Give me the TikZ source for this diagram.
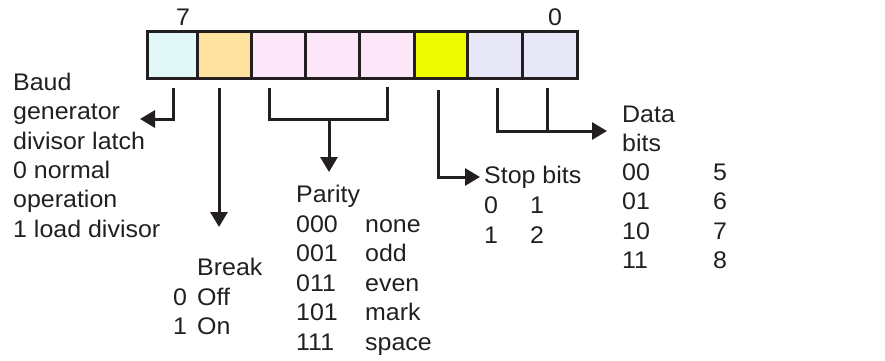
\documentclass[tikz,border=0pt]{standalone}
\usepackage{fontspec}
\setmainfont{Liberation Sans}[FakeStretch=1.04]
\usetikzlibrary{arrows.meta}
\definecolor{ink}{HTML}{231F20}
\definecolor{cCyan}{HTML}{E2F7F8}
\definecolor{cOrange}{HTML}{FDE2A0}
\definecolor{cPink}{HTML}{FBE7F7}
\definecolor{cYellow}{HTML}{EEFA00}
\definecolor{cLav}{HTML}{E7E7F8}
\begin{document}
\begin{tikzpicture}[x=1pt,y=-1pt,
  lbl/.style={anchor=base west, inner sep=0pt, font=\fontsize{24}{29.5}\selectfont, text=ink},
  num/.style={anchor=base, inner sep=0pt, font=\fontsize{24}{29.5}\selectfont, text=ink},
  wire/.style={draw=ink, line width=3pt},
  arr/.style={wire, -{Triangle[length=15pt,width=17pt]}},
  cell/.style={draw=ink, line width=3pt, minimum height=47pt, inner sep=0pt}]
\useasboundingbox (0,0) rectangle (885,360);
% register cells
\node[cell, fill=cCyan,   minimum width=50pt] (c7) at (172,54.5) {};
\node[cell, fill=cOrange, minimum width=54pt] (c6) at (224,54.5) {};
\node[cell, fill=cPink,   minimum width=54pt] (c5) at (278,54.5) {};
\node[cell, fill=cPink,   minimum width=54pt] (c4) at (332,54.5) {};
\node[cell, fill=cPink,   minimum width=55pt] (c3) at (386.5,54.5) {};
\node[cell, fill=cYellow, minimum width=53pt] (c2) at (440.5,54.5) {};
\node[cell, fill=cLav,    minimum width=55pt] (c1) at (494.5,54.5) {};
\node[cell, fill=cLav,    minimum width=55pt] (c0) at (549.5,54.5) {};
\node[num] (n7) at (183,25) {7};
\node[num] (n0) at (555,25) {0};
% connector coordinates
\coordinate (t7) at (173,88);  \coordinate (k7) at (173,119); \coordinate (e7) at (140,119);
\coordinate (t6) at (219,88);  \coordinate (e6) at (219,227);
\coordinate (t5) at (269,88);  \coordinate (k5) at (269,119);
\coordinate (t3) at (387,87);  \coordinate (k3) at (387,119);
\coordinate (pm) at (329,119); \coordinate (pe) at (329,172);
\coordinate (t2) at (438,90);  \coordinate (k2) at (438,177); \coordinate (e2) at (480,177);
\coordinate (t1) at (497,88);  \coordinate (k1) at (497,131);
\coordinate (t0) at (547,88);  \coordinate (k0) at (547,131);
\coordinate (ed) at (607,131);
\draw[arr] (t7) -- (k7) -- (e7);
\draw[arr] (t6) -- (e6);
\draw[wire] (t5) -- (k5) -- (k3) -- (t3);
\draw[arr] (pm) -- (pe);
\draw[arr] (t2) -- (k2) -- (e2);
\draw[arr] (t1) -- (k1) -- (ed);
\draw[wire] (t0) -- (k0);
% Baud block
\node[lbl] (b1) at (13,90) {Baud};
\node[lbl] (b2) at (13,119.5) {generator};
\node[lbl] (b3) at (13,149) {divisor latch};
\node[lbl] (b4) at (13,178) {0 normal};
\node[lbl] (b5) at (13,207.5) {operation};
\node[lbl] (b6) at (13,237) {1 load divisor};
% Break
\node[lbl] (k1t) at (197,275) {Break};
\node[lbl] (k2a) at (173,305) {0};
\node[lbl] (k2b) at (197,305) {Off};
\node[lbl] (k3a) at (173,334) {1};
\node[lbl] (k3b) at (197,334) {On};
% Parity
\node[lbl] (p0) at (296,202) {Parity};
\node[lbl] (p1a) at (296,232) {000}; \node[lbl] (p1b) at (365,232) {none};
\node[lbl] (p2a) at (296,261.5) {001}; \node[lbl] (p2b) at (365,261.5) {odd};
\node[lbl] (p3a) at (296,291) {011}; \node[lbl] (p3b) at (365,291) {even};
\node[lbl] (p4a) at (296,320.5) {101}; \node[lbl] (p4b) at (365,320.5) {mark};
\node[lbl] (p5a) at (296,350) {111}; \node[lbl] (p5b) at (365,350) {space};
% Stop bits
\node[lbl] (s0) at (484,183) {Stop bits};
\node[lbl] (s1a) at (484,213) {0}; \node[lbl] (s1b) at (530,213) {1};
\node[lbl] (s2a) at (484,243) {1}; \node[lbl] (s2b) at (530,243) {2};
% Data bits
\node[lbl] (d0) at (622,122) {Data};
\node[lbl] (d0b) at (622,151) {bits};
\node[lbl] (d1a) at (622,180) {00}; \node[lbl] (d1b) at (713,180) {5};
\node[lbl] (d2a) at (622,209.5) {01}; \node[lbl] (d2b) at (713,209.5) {6};
\node[lbl] (d3a) at (622,239) {10}; \node[lbl] (d3b) at (713,239) {7};
\node[lbl] (d4a) at (622,268.5) {11}; \node[lbl] (d4b) at (713,268.5) {8};
\end{tikzpicture}
\end{document}
